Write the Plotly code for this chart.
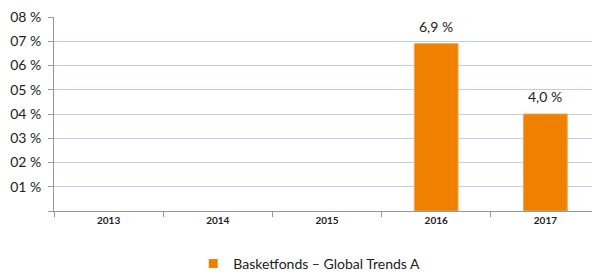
import plotly.graph_objects as go

years = ["2013", "2014", "2015", "2016", "2017"]
values = [None, None, None, 6.9, 4.0]
labels = ["", "", "", "6,9 %", "4,0 %"]
series_name = "Basketfonds – Global Trends A"
ytick_vals = [0, 1, 2, 3, 4, 5, 6, 7, 8]
ytick_text = ["", "01 %", "02 %", "03 %", "04 %", "05 %", "06 %", "07 %", "08 %"]

FONT = "Lato, Open Sans, sans-serif"
ORANGE = "#F08000"

fig = go.Figure()
fig.add_trace(go.Bar(
    x=years, y=values, name=series_name, showlegend=False,
    marker=dict(color=ORANGE, line=dict(color="#F5A050", width=1)),
    width=0.4,
))
# legend entry (small square swatch)
fig.add_trace(go.Scatter(
    x=[None], y=[None], mode="markers", name=series_name,
    marker=dict(symbol="square", size=9, color=ORANGE),
    showlegend=True, hoverinfo="skip",
))
for i, (v, lab) in enumerate(zip(values, labels)):
    if v is not None and lab:
        fig.add_annotation(x=i, y=v, xref="x", yref="y", text=lab, showarrow=False,
                           yanchor="bottom", yshift=7,
                           font=dict(family=FONT, size=14, color="#222222"))

fig.update_layout(
    width=592, height=272,
    margin=dict(l=46, r=0, t=9, b=69, autoexpand=False),
    paper_bgcolor="white", plot_bgcolor="white",
    showlegend=True,
    legend=dict(orientation="h", x=0.255, xanchor="left", y=-0.19, yanchor="top",
                itemwidth=30,
                font=dict(family=FONT, size=14, color="#222222")),
)
fig.update_xaxes(
    type="category", categoryorder="array", categoryarray=years,
    tickson="boundaries", ticks="outside", ticklen=5,
    tickcolor="#999999", showline=True, linecolor="#999999", linewidth=1,
    showgrid=False, automargin=False,
    tickfont=dict(family=FONT, size=10, color="#222222", weight="bold"),
)
fig.update_yaxes(
    range=[0, 8], tickvals=ytick_vals, ticktext=ytick_text,
    ticks="outside", ticklen=5, tickcolor="#999999",
    showline=True, linecolor="#999999", linewidth=1,
    showgrid=True, gridcolor="#BDD0E7", gridwidth=1, zeroline=False,
    automargin=False, ticklabelstandoff=4, ticklabeloverflow="allow",
    tickfont=dict(family=FONT, size=14, color="#222222"),
)
fig.write_html("out.html")
